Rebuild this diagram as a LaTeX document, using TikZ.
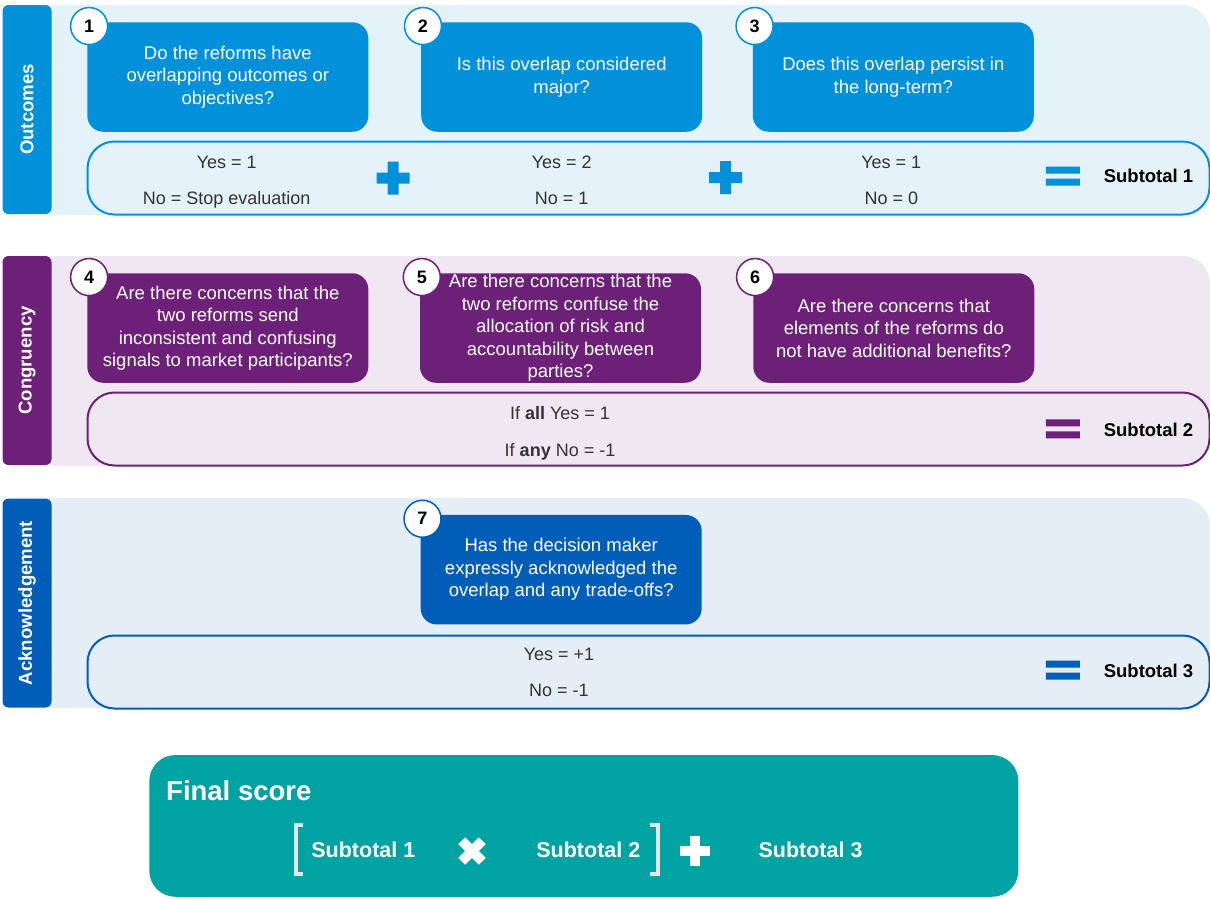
\documentclass[tikz,border=0pt]{standalone}
\usepackage{fontspec}
\setmainfont{Liberation Sans}
\definecolor{outc}{HTML}{0091DA}
\definecolor{outl}{HTML}{E4F2FA}
\definecolor{conc}{HTML}{6D2077}
\definecolor{conl}{HTML}{EFE7F1}
\definecolor{ackc}{HTML}{005EB8}
\definecolor{ackl}{HTML}{E5EDF6}
\definecolor{fin}{HTML}{00A3A1}
\definecolor{brk}{HTML}{E6E6E6}
\definecolor{txt}{HTML}{333333}
\usetikzlibrary{
  positioning   % numbers placed on the question boxes
}
\tikzset{
  x=1pt, y=-1pt,   % one unit = one pixel of the layout
  panel/.style = {rectangle, rounded corners=28pt, minimum width=1180pt,
    minimum height=210pt, inner sep=0pt},
  tab/.style = {rectangle, rounded corners=6pt, rotate=90, minimum width=209pt,
    minimum height=49pt, text=white, font=\fontsize{18.6}{20}\selectfont\bfseries},
  question/.style = {rectangle, rounded corners=16pt, minimum width=281pt,
    minimum height=109.5pt, inner sep=0pt, align=center, text=white,
    font=\fontsize{18.5}{22.5}\selectfont},
  numcircle/.style = {circle, draw, line width=1.5pt, fill=white,
    minimum size=37pt, inner sep=0pt, text=black,
    font=\fontsize{18}{20}\selectfont\bfseries},
  scorebar/.style = {rectangle, rounded corners=27pt, line width=2pt,
    minimum width=1122pt, minimum height=73pt},
  score/.style = {anchor=base, inner sep=0pt, text=txt, font=\fontsize{18}{20}\selectfont},
  subtotal/.style = {anchor=base, inner sep=0pt, text=black,
    font=\fontsize{18.5}{20}\selectfont\bfseries},
  finaltext/.style = {anchor=base, inner sep=0pt, text=white,
    font=\fontsize{21.5}{24}\selectfont\bfseries},
  bracket/.style = {draw=brk, line width=3.5pt},
  plussign/.pic = {\fill (-16.5,-5.5) rectangle (16.5,5.5) (-5.5,-16.5) rectangle (5.5,16.5);},
  equalsign/.pic = {\fill (-17,-9.5) rectangle (17,-2.5) (-17,2.5) rectangle (17,9.5);}
}

\begin{document}
\begin{tikzpicture}
\useasboundingbox (0,0) rectangle (1210,898);

% section panels and side tabs
\node[panel, fill=outl] (pout) at (620,110) {};
\node[panel, fill=conl] (pcon) at (620,361) {};
\node[panel, fill=ackl] (pack) at (620,603) {};
\node[tab, fill=outc] (tout) at (27,109.5) {Outcomes};
\node[tab, fill=conc] (tcon) at (27,360.5) {Congruency};
\node[tab, fill=ackc] (tack) at (27,603) {Acknowledgement};

% score bars
\node[scorebar, draw=outc, fill=outl] (bout) at (648.5,178) {};
\node[scorebar, draw=conc, fill=conl] (bcon) at (648.5,429) {};
\node[scorebar, draw=ackc, fill=ackl] (back) at (648.5,672) {};

% questions
\node[question, fill=outc] (q1) at (227.8,77) {Do the reforms have\\overlapping outcomes or\\objectives?};
\node[question, fill=outc] (q2) at (561.7,77) {Is this overlap considered\\major?};
\node[question, fill=outc] (q3) at (893.3,77) {Does this overlap persist in\\the long-term?};
\node[question, fill=conc] (q4) at (227.8,328) {Are there concerns that the\\two reforms send\\inconsistent and confusing\\signals to market participants?};
\node[question, fill=conc] (q5) at (560.5,328) {Are there concerns that the\\two reforms confuse the\\allocation of risk and\\accountability between\\parties?};
\node[question, fill=conc] (q6) at (893.8,328) {Are there concerns that\\elements of the reforms do\\not have additional benefits?};
\node[question, fill=ackc] (q7) at (561.2,569.7) {Has the decision maker\\expressly acknowledged the\\overlap and any trade-offs?};

\node[numcircle, draw=outc] (n1) at ([shift={(2,4)}]q1.north west) {1};
\node[numcircle, draw=outc] (n2) at ([shift={(2,4)}]q2.north west) {2};
\node[numcircle, draw=outc] (n3) at ([shift={(2,4)}]q3.north west) {3};
\node[numcircle, draw=conc] (n4) at ([shift={(2,4)}]q4.north west) {4};
\node[numcircle, draw=conc] (n5) at ([shift={(2,4)}]q5.north west) {5};
\node[numcircle, draw=conc] (n6) at ([shift={(2,4)}]q6.north west) {6};
\node[numcircle, draw=ackc] (n7) at ([shift={(2,4)}]q7.north west) {7};

% scores
\node[score] (y1) at (226.7,168.5) {Yes = 1};
\node[score] (o1) at (226.7,204.5) {No = Stop evaluation};
\node[score] (y2) at (561.7,168.5) {Yes = 2};
\node[score] (o2) at (561.7,204.5) {No = 1};
\node[score] (y3) at (891.3,168.5) {Yes = 1};
\node[score] (o3) at (891.3,204.5) {No = 0};
\node[score] (y4) at (560,419.8) {If \textbf{all} Yes = 1};
\node[score] (o4) at (560,456) {If \textbf{any} No = -1};
\node[score] (y7) at (559,660.5) {Yes = +1};
\node[score] (o7) at (559,696.5) {No = -1};

\pic[color=outc] at (393,178) {plussign};
\pic[color=outc] at (725.5,177.5) {plussign};
\pic[color=outc] at (1062.8,176) {equalsign};
\pic[color=conc] at (1062.8,428.8) {equalsign};
\pic[color=ackc] at (1062.8,670) {equalsign};
\node[subtotal] (s1) at (1148.5,182) {Subtotal 1};
\node[subtotal] (s2) at (1148.5,436.5) {Subtotal 2};
\node[subtotal] (s3) at (1148.5,677.5) {Subtotal 3};

% final score
\node[rectangle, rounded corners=26pt, fill=fin, minimum width=869pt,
  minimum height=141.7pt] (final) at (583.8,825.9) {};
\node[anchor=base west, inner sep=0pt, text=white,
  font=\fontsize{27.5}{30}\selectfont\bfseries] (ftitle) at (166,800) {Final score};
\draw[bracket] (303,825) -- (296,825) -- (296,874) -- (303,874);
\node[finaltext] (f1) at (363.3,857) {Subtotal 1};
\pic[color=white, rotate=45, scale=0.88] at (472,851) {plussign};
\node[finaltext] (f2) at (588.3,857) {Subtotal 2};
\draw[bracket] (650,825) -- (658,825) -- (658,874) -- (650,874);
\pic[color=white, scale=0.9] at (695,851) {plussign};
\node[finaltext] (f3) at (810.5,857) {Subtotal 3};
\end{tikzpicture}
\end{document}
